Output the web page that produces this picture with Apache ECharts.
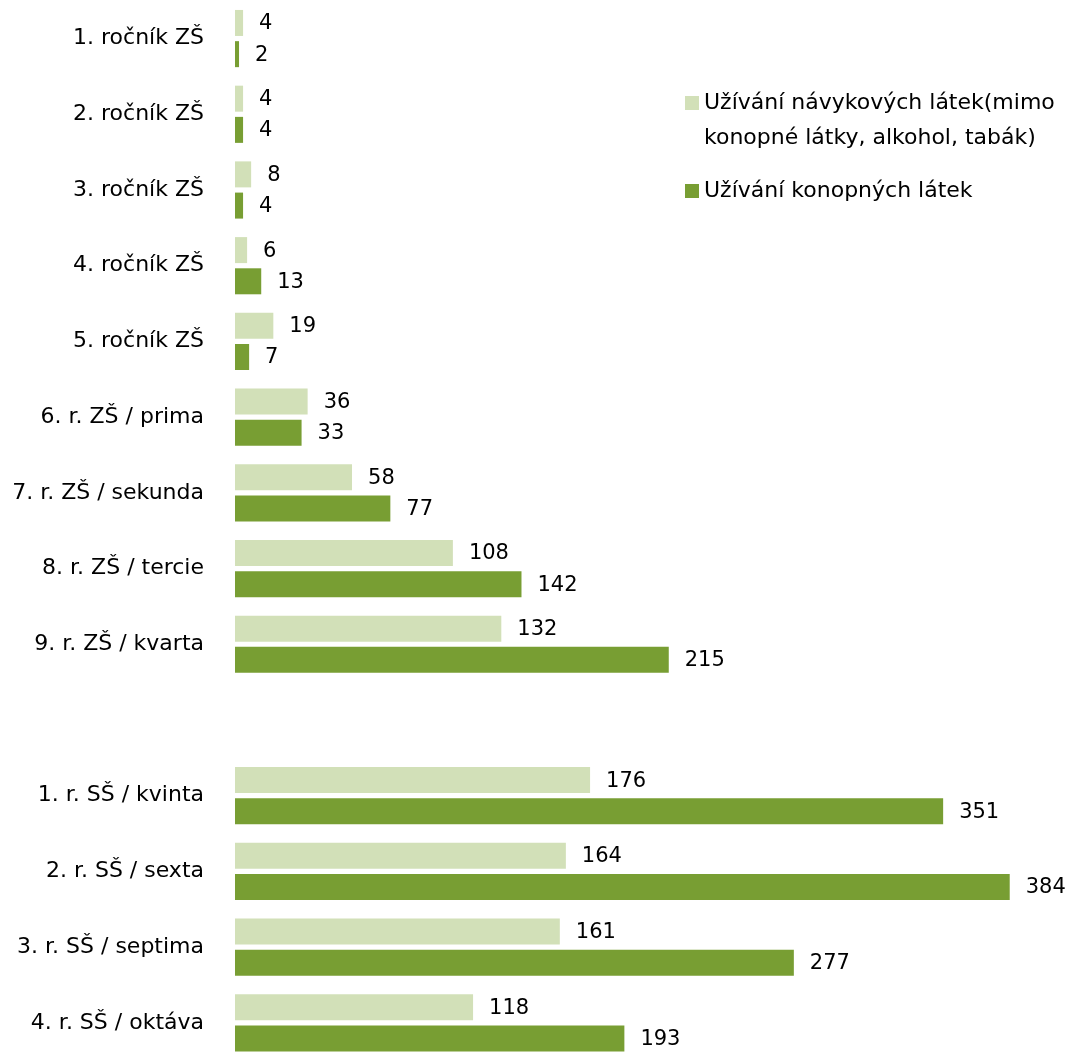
<!DOCTYPE html>
<html>
<head>
<meta charset="utf-8">
<script src="https://cdn.jsdelivr.net/npm/echarts@6/dist/echarts.min.js"></script>
<style>
  html, body { margin: 0; padding: 0; background: #fff; overflow: hidden; }
  #chart { width: 1070px; height: 1064px; }
</style>
</head>
<body>
<div id="chart"></div>
<script>
// Grades from top to bottom; the empty entry separates ZŠ and SŠ groups
const categories = [
  '1. ročník ZŠ', '2. ročník ZŠ', '3. ročník ZŠ', '4. ročník ZŠ', '5. ročník ZŠ',
  '6. r. ZŠ / prima', '7. r. ZŠ / sekunda', '8. r. ZŠ / tercie', '9. r. ZŠ / kvarta',
  '',
  '1. r. SŠ / kvinta', '2. r. SŠ / sexta', '3. r. SŠ / septima', '4. r. SŠ / oktáva'
];
const seriesNames = [
  'Užívání návykových látek(mimo\nkonopné látky, alkohol, tabák)',
  'Užívání konopných látek'
];
const otherSubstances = [4, 4, 8, 6, 19, 36, 58, 108, 132, '-', 176, 164, 161, 118];
const cannabis = [2, 4, 4, 13, 7, 33, 77, 142, 215, '-', 351, 384, 277, 193];

const FONT = '"DejaVu Sans", sans-serif';
const chart = echarts.init(document.getElementById('chart'), null, { renderer: 'canvas' });

const valueLabel = {
  show: true,
  position: 'right',
  distance: 16,
  offset: [0, 1],
  color: '#000',
  fontFamily: FONT,
  fontSize: 21
};

const legendText = { fontFamily: FONT, fontSize: 22, color: '#000', lineHeight: 28 };

chart.setOption({
  animation: false,
  backgroundColor: '#fff',
  grid: { left: 235, top: 0.7, width: 807, height: 1060, containLabel: false },
  xAxis: {
    type: 'value', min: 0, max: 400,
    show: false
  },
  yAxis: {
    type: 'category',
    inverse: true,
    data: categories,
    axisLine: { show: false },
    axisTick: { show: false },
    axisLabel: { margin: 31, color: '#000', fontFamily: FONT, fontSize: 22 }
  },
  legend: [
    {
      data: [seriesNames[0]],
      left: 680, top: 84,
      itemWidth: 14, itemHeight: 14, itemGap: 10,
      icon: 'rect',
      // first line next to the swatch; the wrapped line is drawn below
      formatter: (name) => name.split('\n')[0],
      textStyle: legendText
    },
    {
      data: [seriesNames[1]],
      left: 680, top: 172,
      itemWidth: 14, itemHeight: 14, itemGap: 10,
      icon: 'rect',
      textStyle: legendText
    }
  ],
  graphic: [
    {
      type: 'text',
      left: 704, top: 124,
      style: {
        text: seriesNames[0].split('\n')[1],
        fontFamily: FONT, fontSize: 22, fill: '#000', lineHeight: 28
      }
    }
  ],
  series: [
    {
      name: seriesNames[0], type: 'bar', data: otherSubstances,
      barWidth: 26, barGap: '20%',
      itemStyle: { color: '#d2e0b8' },
      label: valueLabel
    },
    {
      name: seriesNames[1], type: 'bar', data: cannabis,
      barWidth: 26, barGap: '20%',
      itemStyle: { color: '#789e33' },
      label: valueLabel
    }
  ]
});
</script>
</body>
</html>
